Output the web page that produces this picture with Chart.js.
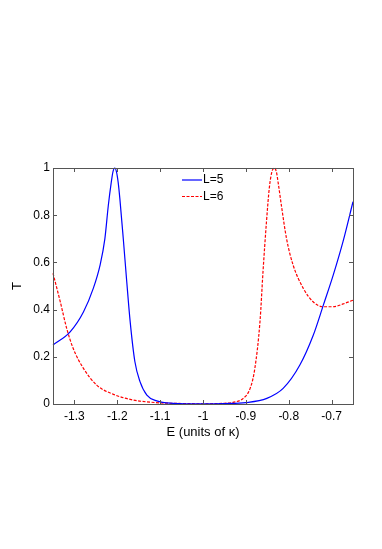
<!DOCTYPE html>
<html>
<head>
<meta charset="utf-8">
<script src="https://cdn.jsdelivr.net/npm/chart.js@4/dist/chart.umd.min.js"></script>
<style>
  html, body { margin: 0; padding: 0; background: #fff; }
  canvas { display: block; }
</style>
</head>
<body>
<canvas id="transChart" width="382" height="549"></canvas>
<script>
// T vs E
const eL5 = [-1.35, -1.31, -1.279, -1.256, -1.24, -1.229, -1.221, -1.214, -1.21, -1.206, -1.202, -1.198, -1.194, -1.186, -1.178, -1.17, -1.159, -1.147, -1.131, -1.108, -1.07, -1.0, -0.95, -0.9, -0.851, -0.813, -0.774, -0.743, -0.719, -0.696, -0.673, -0.65];
const tL5 = [0.25, 0.306, 0.39, 0.49, 0.59, 0.70, 0.84, 0.94, 0.985, 1.0, 0.985, 0.94, 0.87, 0.70, 0.52, 0.35, 0.18, 0.095, 0.038, 0.013, 0.003, 0.0005, 0.002, 0.006, 0.024, 0.066, 0.165, 0.29, 0.42, 0.547, 0.69, 0.857];

const eL6 = [-1.35, -1.333, -1.318, -1.303, -1.279, -1.248, -1.209, -1.163, -1.11, -1.05, -1.0, -0.95, -0.93, -0.906, -0.89, -0.879, -0.867, -0.86, -0.852, -0.845, -0.839, -0.834, -0.829, -0.824, -0.817, -0.805, -0.79, -0.766, -0.743, -0.719, -0.696, -0.673, -0.65];
const tL6 = [0.554, 0.433, 0.32, 0.236, 0.151, 0.08, 0.041, 0.017, 0.006, 0.002, 0.001, 0.003, 0.007, 0.024, 0.066, 0.151, 0.35, 0.56, 0.77, 0.92, 0.985, 1.0, 0.985, 0.93, 0.84, 0.70, 0.59, 0.49, 0.433, 0.412, 0.412, 0.424, 0.44];

const xTicks = [-1.3, -1.2, -1.1, -1, -0.9, -0.8, -0.7];
const yTicks = [0, 0.2, 0.4, 0.6, 0.8, 1];

const seriesNames = ['L=5', 'L=6'];
const seriesColors = ['#0000ff', '#ff0000'];

const toPoints = (xs, ys) => xs.map((x, i) => ({ x: x, y: ys[i] }));

const FONT = 'Liberation Sans, Arial, sans-serif';

// inward ticks on all four sides plus the small legend box
const matlabAxes = {
  id: 'matlabAxes',
  afterDraw(chart) {
    const ctx = chart.ctx;
    const a = chart.chartArea;
    const xs = chart.scales.x;
    const ys = chart.scales.y;
    const len = 4;
    ctx.save();
    ctx.strokeStyle = '#555';
    ctx.lineWidth = 1;
    ctx.beginPath();
    xTicks.forEach(v => {
      const px = Math.round(xs.getPixelForValue(v)) + 0.5;
      ctx.moveTo(px, a.bottom); ctx.lineTo(px, a.bottom - len);
      ctx.moveTo(px, a.top); ctx.lineTo(px, a.top + len);
    });
    yTicks.forEach(v => {
      const py = Math.round(ys.getPixelForValue(v)) + 0.5;
      ctx.moveTo(a.left, py); ctx.lineTo(a.left + len, py);
      ctx.moveTo(a.right, py); ctx.lineTo(a.right - len, py);
    });
    ctx.stroke();
    ctx.strokeRect(Math.round(a.left) + 0.5, Math.round(a.top) + 0.5,
      Math.round(a.right - a.left), Math.round(a.bottom - a.top));

    // legend
    ctx.font = '12px ' + FONT;
    ctx.textBaseline = 'middle';
    ctx.fillStyle = '#000';
    seriesNames.forEach((name, i) => {
      const y = a.top + 12 + i * 16.5;
      const x0 = a.left + 129;
      ctx.beginPath();
      ctx.strokeStyle = seriesColors[i];
      ctx.lineWidth = 1.2;
      ctx.setLineDash(i === 1 ? [3, 1.5] : []);
      ctx.moveTo(x0, y); ctx.lineTo(x0 + 20, y);
      ctx.stroke();
      ctx.setLineDash([]);
      ctx.fillText(name, x0 + 21, y);
    });
    ctx.restore();
  }
};

new Chart(document.getElementById('transChart').getContext('2d'), {
  type: 'line',
  data: {
    datasets: [{
      label: seriesNames[0],
      data: toPoints(eL5, tL5),
      borderColor: seriesColors[0],
      borderWidth: 1.2,
      pointRadius: 0,
      cubicInterpolationMode: 'monotone',
      clip: 2,
      fill: false
    }, {
      label: seriesNames[1],
      data: toPoints(eL6, tL6),
      borderColor: seriesColors[1],
      borderWidth: 1.2,
      borderDash: [3, 1.5],
      pointRadius: 0,
      cubicInterpolationMode: 'monotone',
      clip: 2,
      fill: false
    }]
  },
  options: {
    responsive: false,
    animation: false,
    layout: { padding: { left: 0, top: 168, right: 29, bottom: 105 } },
    plugins: {
      legend: { display: false },
      tooltip: { enabled: false }
    },
    scales: {
      x: {
        type: 'linear',
        min: -1.35,
        max: -0.65,
        afterBuildTicks: s => { s.ticks = xTicks.map(v => ({ value: v })); },
        afterFit: s => { s.height = 40; },
        grid: { drawOnChartArea: false, drawTicks: false },
        border: { display: false },
        ticks: {
          color: '#000',
          padding: 5,
          font: { family: FONT, size: 12 },
          callback: v => String(v)
        },
        title: {
          display: true,
          text: 'E (units of κ)',
          color: '#000',
          font: { family: FONT, size: 13 },
          padding: { top: 0, bottom: 4 }
        }
      },
      y: {
        min: 0,
        max: 1,
        afterBuildTicks: s => { s.ticks = yTicks.map(v => ({ value: v })); },
        afterFit: s => { s.width = 53; },
        grid: { drawOnChartArea: false, drawTicks: false },
        border: { display: false },
        ticks: {
          color: '#000',
          padding: 3,
          font: { family: FONT, size: 12 },
          callback: v => String(v)
        },
        title: {
          display: true,
          text: 'T',
          color: '#000',
          font: { family: FONT, size: 13 },
          padding: { top: 10, bottom: 0 }
        }
      }
    }
  },
  plugins: [matlabAxes]
});
</script>
</body>
</html>
